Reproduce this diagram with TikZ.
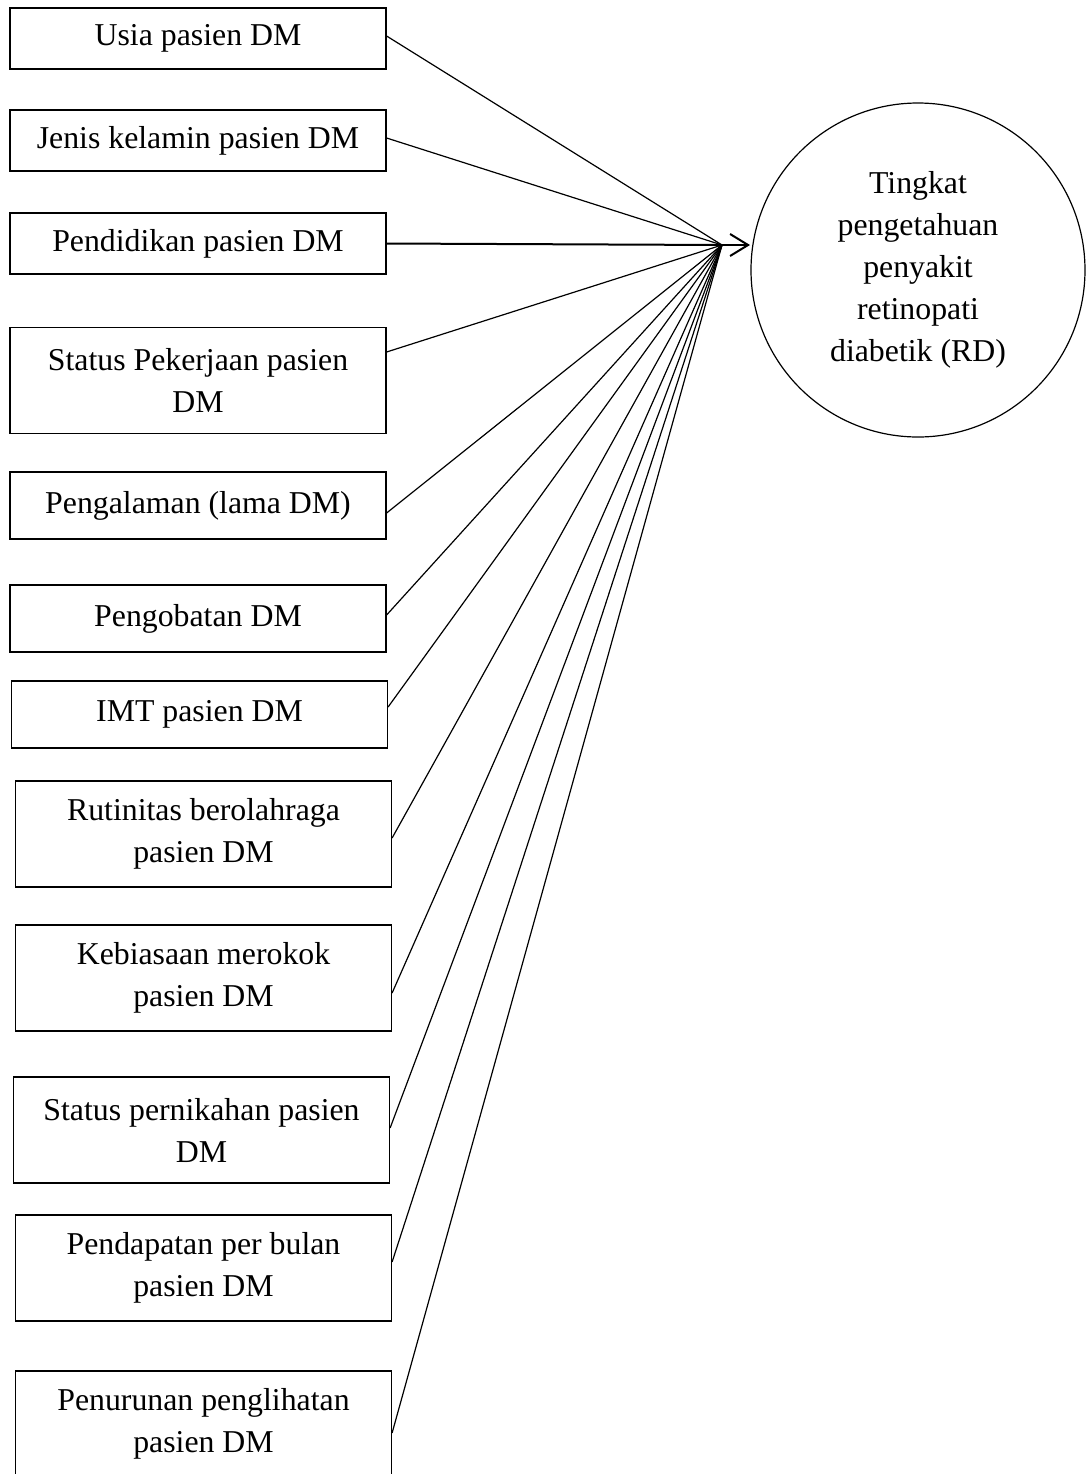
\documentclass[tikz,border=0pt]{standalone}
\usepackage{fontspec}
\setmainfont{Liberation Serif}
\usetikzlibrary{arrows.meta}
\begin{document}
\begin{tikzpicture}[x=0.5pt,y=-0.5pt]
\tikzstyle{kotak}=[rectangle, draw, line width=0.6pt, inner sep=0pt, minimum width=188pt,
                   align=center, font=\fontsize{15.9pt}{21pt}\selectfont]
\tikzstyle{garis}=[line width=0.6pt]
\useasboundingbox (0,0) rectangle (1088,1474);
\node[kotak, minimum height=30.5pt](a) at (198,38.5){Usia pasien DM};
\node[kotak, minimum height=30.5pt](b) at (198,140.5){Jenis kelamin pasien DM};
\node[kotak, minimum height=30.5pt](c) at (198,243.5){Pendidikan pasien DM};
\node[kotak, minimum height=53pt](d) at (198,380.5){Status Pekerjaan pasien\\DM};
\node[kotak, minimum height=33.5pt](e) at (198,505.5){Pengalaman (lama DM)};
\node[kotak, minimum height=33.5pt](f) at (198,618.5){Pengobatan DM};
\node[kotak, minimum height=33.5pt](g) at (199.5,714.5){IMT pasien DM};
\node[kotak, minimum height=53pt](h) at (203.5,834){Rutinitas berolahraga\\pasien DM};
\node[kotak, minimum height=53pt](i) at (203.5,978){Kebiasaan merokok\\pasien DM};
\node[kotak, minimum height=53pt](j) at (201.5,1130){Status pernikahan pasien\\DM};
\node[kotak, minimum height=53pt](k) at (203.5,1268){Pendapatan per bulan\\pasien DM};
\node[kotak, minimum height=53pt](l) at (203.5,1424){Penurunan penglihatan\\pasien DM};
\node[circle, draw, line width=0.6pt, inner sep=0pt, minimum size=167pt, align=center,
      font=\fontsize{15.9pt}{21pt}\selectfont](rd) at (918,270)
      {Tingkat\\pengetahuan\\penyakit\\retinopati\\diabetik (RD)};
\coordinate (hub) at (722,245);
\coordinate (tip) at (750,245);
\foreach \i/\k in {a/1.25,b/1.25,d/14.25,e/-3.75,f/1.75,g/3.75,h/-2,i/-7.5,j/1,k/3,l/-4.5}{\draw[garis] ([yshift=\k pt]\i.east) -- (hub);}
\draw[line width=1pt] (c.east) -- (hub);
\draw[line width=1pt, -{Straight Barb[length=9pt,width=11pt]}] (hub) -- (tip);
\end{tikzpicture}
\end{document}
